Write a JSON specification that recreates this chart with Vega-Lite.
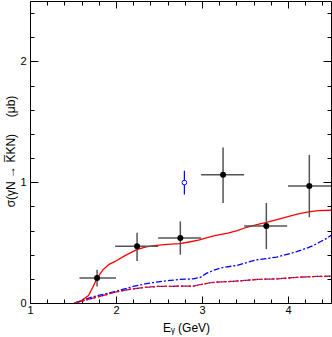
{
  "$schema": "https://vega.github.io/schema/vega-lite/v6.json",
  "width": 301,
  "height": 302,
  "autosize": "none",
  "padding": {"left": 30, "top": 1, "right": 1, "bottom": 34},
  "config": {
    "font": "Liberation Sans",
    "view": {"stroke": "black", "strokeWidth": 1},
    "axis": {"grid": false, "labelColor": "black", "titleColor": "black", "tickColor": "black", "labelFontSize": 11, "titleFontSize": 12, "titleFontWeight": "normal", "labelFlush": false}
  },
  "datasets": {
    "curves": [
      {"s": "full", "x": 1.52, "y": 0}, {"s": "full", "x": 1.6, "y": 0.02}, {"s": "full", "x": 1.68, "y": 0.062}, {"s": "full", "x": 1.73, "y": 0.13}, {"s": "full", "x": 1.78, "y": 0.206}, {"s": "full", "x": 1.85, "y": 0.276}, {"s": "full", "x": 1.92, "y": 0.32}, {"s": "full", "x": 1.99, "y": 0.344}, {"s": "full", "x": 2.1, "y": 0.39}, {"s": "full", "x": 2.24, "y": 0.441}, {"s": "full", "x": 2.35, "y": 0.465}, {"s": "full", "x": 2.47, "y": 0.477}, {"s": "full", "x": 2.6, "y": 0.485}, {"s": "full", "x": 2.74, "y": 0.491}, {"s": "full", "x": 2.85, "y": 0.505}, {"s": "full", "x": 2.96, "y": 0.52}, {"s": "full", "x": 3.05, "y": 0.54}, {"s": "full", "x": 3.15, "y": 0.557}, {"s": "full", "x": 3.3, "y": 0.578}, {"s": "full", "x": 3.4, "y": 0.598}, {"s": "full", "x": 3.52, "y": 0.627}, {"s": "full", "x": 3.65, "y": 0.65}, {"s": "full", "x": 3.75, "y": 0.667}, {"s": "full", "x": 3.87, "y": 0.69}, {"s": "full", "x": 4.0, "y": 0.715}, {"s": "full", "x": 4.12, "y": 0.737}, {"s": "full", "x": 4.24, "y": 0.755}, {"s": "full", "x": 4.35, "y": 0.765}, {"s": "full", "x": 4.5, "y": 0.768},
      {"s": "dd", "x": 1.52, "y": 0}, {"s": "dd", "x": 1.6, "y": 0.02}, {"s": "dd", "x": 1.7, "y": 0.045}, {"s": "dd", "x": 1.81, "y": 0.065}, {"s": "dd", "x": 1.9, "y": 0.08}, {"s": "dd", "x": 1.99, "y": 0.095}, {"s": "dd", "x": 2.1, "y": 0.117}, {"s": "dd", "x": 2.2, "y": 0.137}, {"s": "dd", "x": 2.35, "y": 0.16}, {"s": "dd", "x": 2.47, "y": 0.173}, {"s": "dd", "x": 2.63, "y": 0.187}, {"s": "dd", "x": 2.74, "y": 0.195}, {"s": "dd", "x": 2.9, "y": 0.2}, {"s": "dd", "x": 2.98, "y": 0.212}, {"s": "dd", "x": 3.05, "y": 0.245}, {"s": "dd", "x": 3.15, "y": 0.275}, {"s": "dd", "x": 3.25, "y": 0.295}, {"s": "dd", "x": 3.4, "y": 0.31}, {"s": "dd", "x": 3.52, "y": 0.335}, {"s": "dd", "x": 3.64, "y": 0.358}, {"s": "dd", "x": 3.75, "y": 0.368}, {"s": "dd", "x": 3.87, "y": 0.38}, {"s": "dd", "x": 4.0, "y": 0.405}, {"s": "dd", "x": 4.1, "y": 0.425}, {"s": "dd", "x": 4.22, "y": 0.455}, {"s": "dd", "x": 4.3, "y": 0.478}, {"s": "dd", "x": 4.37, "y": 0.505}, {"s": "dd", "x": 4.45, "y": 0.535}, {"s": "dd", "x": 4.5, "y": 0.56},
      {"s": "low", "x": 1.52, "y": 0}, {"s": "low", "x": 1.6, "y": 0.015}, {"s": "low", "x": 1.7, "y": 0.035}, {"s": "low", "x": 1.81, "y": 0.054}, {"s": "low", "x": 1.9, "y": 0.072}, {"s": "low", "x": 1.99, "y": 0.09}, {"s": "low", "x": 2.1, "y": 0.105}, {"s": "low", "x": 2.2, "y": 0.118}, {"s": "low", "x": 2.35, "y": 0.13}, {"s": "low", "x": 2.47, "y": 0.137}, {"s": "low", "x": 2.63, "y": 0.137}, {"s": "low", "x": 2.74, "y": 0.14}, {"s": "low", "x": 2.9, "y": 0.14}, {"s": "low", "x": 3.0, "y": 0.155}, {"s": "low", "x": 3.1, "y": 0.168}, {"s": "low", "x": 3.2, "y": 0.174}, {"s": "low", "x": 3.4, "y": 0.181}, {"s": "low", "x": 3.64, "y": 0.195}, {"s": "low", "x": 3.87, "y": 0.2}, {"s": "low", "x": 4.1, "y": 0.212}, {"s": "low", "x": 4.33, "y": 0.22}, {"s": "low", "x": 4.5, "y": 0.222}
    ],
    "points": [
      {"x": 1.78, "y": 0.206, "xlo": 1.575, "xhi": 2.0, "ylo": 0.137, "yhi": 0.276},
      {"x": 2.245, "y": 0.469, "xlo": 1.99, "xhi": 2.49, "ylo": 0.347, "yhi": 0.582},
      {"x": 2.748, "y": 0.538, "xlo": 2.49, "xhi": 2.99, "ylo": 0.40, "yhi": 0.676},
      {"x": 3.245, "y": 1.061, "xlo": 2.99, "xhi": 3.49, "ylo": 0.828, "yhi": 1.288},
      {"x": 3.748, "y": 0.637, "xlo": 3.49, "xhi": 3.99, "ylo": 0.446, "yhi": 0.828},
      {"x": 4.248, "y": 0.969, "xlo": 4.0, "xhi": 4.5, "ylo": 0.71, "yhi": 1.226}
    ],
    "blue": [
      {"x": 2.795, "y": 0.997, "ylo": 0.898, "yhi": 1.094}
    ]
  },
  "resolve": {"axis": {"x": "independent", "y": "independent"}},
  "layer": [
    {
      "data": {"name": "curves"},
      "transform": [{"filter": "datum.s === 'full'"}],
      "mark": {"type": "line", "color": "#ff0000", "strokeWidth": 1.3, "clip": true},
      "encoding": {
        "x": {"field": "x", "type": "quantitative", "scale": {"domain": [1, 4.5], "nice": false, "zero": false},
          "axis": {"orient": "bottom", "values": [1, 2, 3, 4], "ticks": false, "domain": false, "labelPadding": 1, "title": "Eᵧ\u00a0(GeV)", "titleX": 156, "titleY": 28, "titleBaseline": "alphabetic"}},
        "y": {"field": "y", "type": "quantitative", "scale": {"domain": [0, 2.5], "nice": false, "zero": false},
          "axis": {"orient": "left", "values": [0, 1, 2], "ticks": false, "domain": false, "labelPadding": 4, "title": "σ(γN → K̅KN)\u00a0\u00a0\u00a0\u00a0\u00a0(μb)", "titleAngle": -90, "titleX": -16, "titleY": 150, "titleAlign": "center", "titleBaseline": "alphabetic"}}
      }
    },
    {
      "data": {"name": "curves"},
      "transform": [{"filter": "datum.s === 'dd'"}],
      "mark": {"type": "line", "color": "#0000ff", "strokeWidth": 1.3, "strokeDash": [6, 2, 2, 2], "clip": true},
      "encoding": {
        "x": {"field": "x", "type": "quantitative", "scale": {"domain": [1, 4.5], "nice": false, "zero": false},
          "axis": {"orient": "bottom", "values": [1, 2, 3, 4], "tickSize": -7, "labels": false, "domain": false, "title": null}},
        "y": {"field": "y", "type": "quantitative", "scale": {"domain": [0, 2.5], "nice": false, "zero": false},
          "axis": {"orient": "left", "values": [0, 1, 2], "tickSize": -8, "labels": false, "domain": false, "title": null}}
      }
    },
    {
      "data": {"name": "curves"},
      "transform": [{"filter": "datum.s === 'low'"}],
      "mark": {"type": "line", "color": "#0000ff", "strokeWidth": 1.3, "strokeDash": [2, 2], "clip": true},
      "encoding": {
        "x": {"field": "x", "type": "quantitative", "scale": {"domain": [1, 4.5], "nice": false, "zero": false},
          "axis": {"orient": "bottom", "values": [1.2, 1.4, 1.6, 1.8, 2.2, 2.4, 2.6, 2.8, 3.2, 3.4, 3.6, 3.8, 4.2, 4.4], "tickSize": -4, "labels": false, "domain": false, "title": null}},
        "y": {"field": "y", "type": "quantitative", "scale": {"domain": [0, 2.5], "nice": false, "zero": false},
          "axis": {"orient": "left", "values": [0.2, 0.4, 0.6, 0.8, 1.2, 1.4, 1.6, 1.8, 2.2, 2.4], "tickSize": -4, "labels": false, "domain": false, "title": null}}
      }
    },
    {
      "data": {"name": "curves"},
      "transform": [{"filter": "datum.s === 'low'"}],
      "mark": {"type": "line", "color": "#ff0000", "strokeWidth": 1.3, "strokeDash": [4, 2], "clip": true},
      "encoding": {
        "x": {"field": "x", "type": "quantitative", "scale": {"domain": [1, 4.5], "nice": false, "zero": false},
          "axis": {"orient": "top", "values": [1, 2, 3, 4], "tickSize": -7, "labels": false, "domain": false, "title": null}},
        "y": {"field": "y", "type": "quantitative", "scale": {"domain": [0, 2.5], "nice": false, "zero": false},
          "axis": {"orient": "right", "values": [0, 1, 2], "tickSize": -8, "labels": false, "domain": false, "title": null}}
      }
    },
    {
      "data": {"name": "points"},
      "mark": {"type": "rule", "color": "#555555", "strokeWidth": 1.5},
      "encoding": {
        "x": {"field": "xlo", "type": "quantitative", "scale": {"domain": [1, 4.5], "nice": false, "zero": false},
          "axis": {"orient": "top", "values": [1.2, 1.4, 1.6, 1.8, 2.2, 2.4, 2.6, 2.8, 3.2, 3.4, 3.6, 3.8, 4.2, 4.4], "tickSize": -4, "labels": false, "domain": false, "title": null}},
        "x2": {"field": "xhi"},
        "y": {"field": "y", "type": "quantitative", "scale": {"domain": [0, 2.5], "nice": false, "zero": false},
          "axis": {"orient": "right", "values": [0.2, 0.4, 0.6, 0.8, 1.2, 1.4, 1.6, 1.8, 2.2, 2.4], "tickSize": -4, "labels": false, "domain": false, "title": null}}
      }
    },
    {
      "data": {"name": "points"},
      "mark": {"type": "rule", "color": "#555555", "strokeWidth": 1.5},
      "encoding": {
        "x": {"field": "x", "type": "quantitative", "scale": {"domain": [1, 4.5], "nice": false, "zero": false}, "axis": null},
        "y": {"field": "ylo", "type": "quantitative", "scale": {"domain": [0, 2.5], "nice": false, "zero": false}, "axis": null},
        "y2": {"field": "yhi"}
      }
    },
    {
      "data": {"name": "points"},
      "mark": {"type": "point", "filled": true, "color": "black", "size": 36, "opacity": 1},
      "encoding": {
        "x": {"field": "x", "type": "quantitative", "scale": {"domain": [1, 4.5], "nice": false, "zero": false}, "axis": null},
        "y": {"field": "y", "type": "quantitative", "scale": {"domain": [0, 2.5], "nice": false, "zero": false}, "axis": null}
      }
    },
    {
      "data": {"name": "blue"},
      "mark": {"type": "rule", "color": "#0000ff", "strokeWidth": 1.2},
      "encoding": {
        "x": {"field": "x", "type": "quantitative", "scale": {"domain": [1, 4.5], "nice": false, "zero": false}, "axis": null},
        "y": {"field": "ylo", "type": "quantitative", "scale": {"domain": [0, 2.5], "nice": false, "zero": false}, "axis": null},
        "y2": {"field": "yhi"}
      }
    },
    {
      "data": {"name": "blue"},
      "mark": {"type": "point", "filled": true, "fill": "white", "stroke": "#0000ff", "strokeWidth": 1, "size": 22, "opacity": 1},
      "encoding": {
        "x": {"field": "x", "type": "quantitative", "scale": {"domain": [1, 4.5], "nice": false, "zero": false}, "axis": null},
        "y": {"field": "y", "type": "quantitative", "scale": {"domain": [0, 2.5], "nice": false, "zero": false}, "axis": null}
      }
    }
  ]
}
